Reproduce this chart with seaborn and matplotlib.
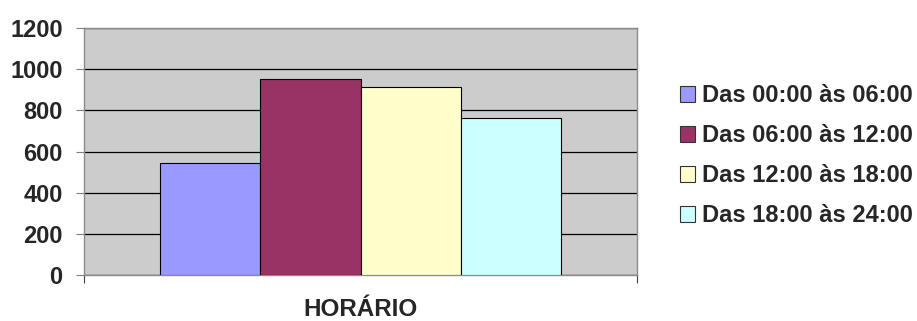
import matplotlib
matplotlib.use("Agg")
import matplotlib.pyplot as plt
import seaborn as sns
import pandas as pd
from matplotlib.patches import Patch

# Data: visits by time of day
periods = ["Das 00:00 às 06:00", "Das 06:00 às 12:00",
           "Das 12:00 às 18:00", "Das 18:00 às 24:00"]
counts = [543, 952, 916, 762]
group = ["HORÁRIO"] * len(periods)
colors = ["#9999FF", "#993366", "#FFFFCC", "#CCFFFF"]
yticks = [0, 200, 400, 600, 800, 1000, 1200]

df = pd.DataFrame({"grupo": group, "periodo": periods, "total": counts})

sns.set_theme(style="white")
plt.rcParams["font.family"] = ["Liberation Sans", "DejaVu Sans"]
plt.rcParams["font.weight"] = "bold"

fig = plt.figure(figsize=(9.17, 3.21), dpi=100)
ax = fig.add_axes([0.0919, 0.1442, 0.6028, 0.7676])
ax.set_facecolor("#CCCCCC")

sns.barplot(data=df, x="grupo", y="total", hue="periodo", palette=colors,
            width=0.725, gap=0, edgecolor="black", linewidth=0.8,
            saturation=1, legend=False, ax=ax, zorder=3)

ax.set_xlim(-0.5, 0.5)
ax.set_ylim(0, 1200)
ax.set_yticks(yticks)
ax.set_yticklabels([str(v) for v in yticks], fontsize=17, fontweight="bold")
ax.set_xticks([-0.5, 0.5])
ax.set_xticklabels(["", ""])
ax.tick_params(axis="y", direction="out", length=5.5, width=0.8, color="#808080",
               pad=10, left=True)
ax.tick_params(axis="x", direction="out", length=6, width=0.8, color="#404040",
               bottom=True)

ax.yaxis.grid(True, color="black", linewidth=0.9, zorder=1)
ax.set_axisbelow(True)

for side in ["left", "bottom", "top", "right"]:
    ax.spines[side].set_visible(True)
    ax.spines[side].set_color("#8C8C8C")
    ax.spines[side].set_linewidth(1.0)

ax.set_ylabel("")
ax.set_xlabel("HORÁRIO", fontsize=17.5, fontweight="bold")
ax.xaxis.set_label_coords(0.5, -0.095)
ax.xaxis.label.set_va("top")

handles = [Patch(facecolor=c, edgecolor="#333333", linewidth=0.8) for c in colors]
leg = fig.legend(handles, periods, loc="upper left", bbox_to_anchor=(0.7415, 0.738),
                 frameon=False, prop={"size": 17, "weight": "bold"},
                 handlelength=0.64, handleheight=0.64, handletextpad=0.3,
                 labelspacing=0.725, borderaxespad=0, borderpad=0)

fig.savefig("out.png", dpi=100)
